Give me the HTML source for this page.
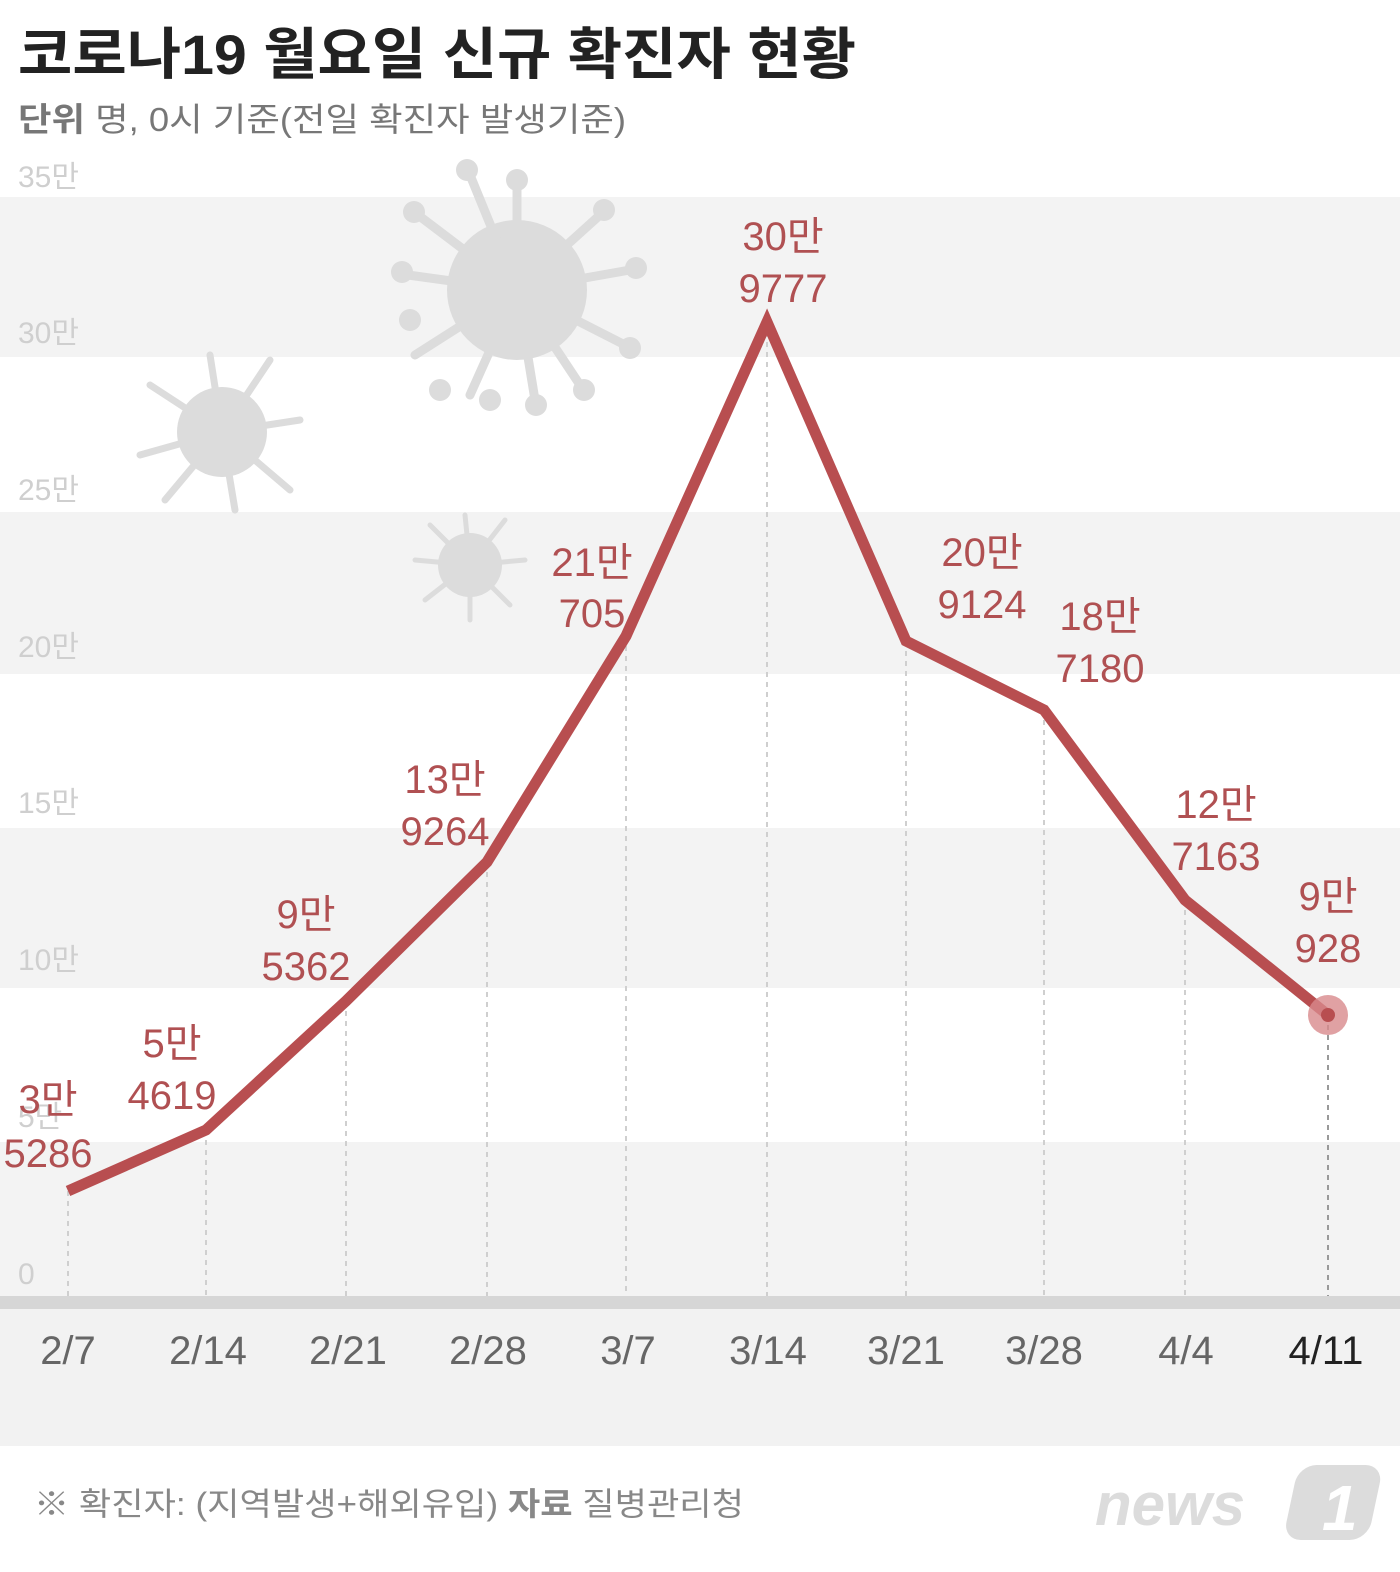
<!DOCTYPE html>
<html><head><meta charset="utf-8"><style>
body{margin:0;background:#fff}
svg text{font-family:"Liberation Sans","Noto Sans CJK KR",sans-serif}
</style></head><body>
<svg width="1400" height="1567" viewBox="0 0 1400 1567" xmlns="http://www.w3.org/2000/svg">
<rect width="1400" height="1567" fill="#fff"/>
<g fill="#f3f3f3">
<rect x="0" y="197" width="1400" height="160"/>
<rect x="0" y="512" width="1400" height="162"/>
<rect x="0" y="828" width="1400" height="160"/>
<rect x="0" y="1142" width="1400" height="154"/>
</g>
<g fill="#dcdcdc" stroke="#dcdcdc" stroke-linecap="round">
<circle cx="517" cy="290" r="70" stroke="none"/>
<g stroke-width="9">
<line x1="517" y1="290" x2="517" y2="185"/><line x1="517" y1="290" x2="600" y2="215"/><line x1="517" y1="290" x2="630" y2="270"/><line x1="517" y1="290" x2="625" y2="345"/><line x1="517" y1="290" x2="580" y2="385"/><line x1="517" y1="290" x2="535" y2="400"/><line x1="517" y1="290" x2="470" y2="395"/><line x1="517" y1="290" x2="415" y2="355"/><line x1="517" y1="290" x2="408" y2="275"/><line x1="517" y1="290" x2="418" y2="215"/><line x1="517" y1="290" x2="470" y2="175"/>
</g>
<g stroke="none"><circle cx="517" cy="180" r="11"/><circle cx="604" cy="210" r="11"/><circle cx="636" cy="268" r="11"/><circle cx="630" cy="348" r="11"/><circle cx="584" cy="390" r="11"/><circle cx="536" cy="405" r="11"/><circle cx="490" cy="400" r="11"/><circle cx="440" cy="390" r="11"/><circle cx="410" cy="320" r="11"/><circle cx="402" cy="272" r="11"/><circle cx="414" cy="212" r="11"/><circle cx="467" cy="170" r="11"/></g>
<circle cx="222" cy="432" r="45" stroke="none"/>
<g stroke-width="7">
<line x1="222" y1="432" x2="210" y2="355"/><line x1="222" y1="432" x2="270" y2="360"/><line x1="222" y1="432" x2="300" y2="420"/><line x1="222" y1="432" x2="290" y2="490"/><line x1="222" y1="432" x2="235" y2="510"/><line x1="222" y1="432" x2="165" y2="500"/><line x1="222" y1="432" x2="140" y2="455"/><line x1="222" y1="432" x2="150" y2="385"/>
</g>
<circle cx="470" cy="565" r="32" stroke="none"/>
<g stroke-width="5">
<line x1="470" y1="565" x2="465" y2="515"/><line x1="470" y1="565" x2="505" y2="520"/><line x1="470" y1="565" x2="525" y2="560"/><line x1="470" y1="565" x2="510" y2="605"/><line x1="470" y1="565" x2="470" y2="620"/><line x1="470" y1="565" x2="425" y2="600"/><line x1="470" y1="565" x2="415" y2="560"/><line x1="470" y1="565" x2="430" y2="525"/>
</g>
</g>
<text x="18" y="74" font-size="56" font-weight="bold" fill="#222" textLength="838" lengthAdjust="spacingAndGlyphs">코로나19 월요일 신규 확진자 현황</text>
<text x="18" y="131" font-size="33" fill="#777" textLength="608" lengthAdjust="spacingAndGlyphs"><tspan font-weight="bold">단위</tspan>  명, 0시 기준(전일 확진자 발생기준)</text>
<g font-size="30" fill="#cfcfcf">
<text x="18" y="187">35만</text><text x="18" y="343">30만</text><text x="18" y="500">25만</text><text x="18" y="657">20만</text><text x="18" y="813">15만</text><text x="18" y="970">10만</text><text x="18" y="1127">5만</text><text x="18" y="1284">0</text>
</g>
<g stroke="#cfcfcf" stroke-width="2" stroke-dasharray="5,5">
<line x1="68" y1="1191" x2="68" y2="1300"/><line x1="206" y1="1130" x2="206" y2="1300"/><line x1="346" y1="1001" x2="346" y2="1300"/><line x1="487" y1="862" x2="487" y2="1300"/><line x1="626" y1="636" x2="626" y2="1300"/><line x1="767" y1="322" x2="767" y2="1300"/><line x1="906" y1="641" x2="906" y2="1300"/><line x1="1044" y1="710" x2="1044" y2="1300"/><line x1="1185" y1="900" x2="1185" y2="1300"/><line x1="1328" y1="1015" x2="1328" y2="1300" stroke="#999"/>
</g>
<rect x="0" y="1296" width="1400" height="13" fill="#d6d6d6"/>
<rect x="0" y="1309" width="1400" height="137" fill="#f2f2f2"/>
<g font-size="40" fill="#666" text-anchor="middle">
<text x="68" y="1364">2/7</text><text x="208" y="1364">2/14</text><text x="348" y="1364">2/21</text><text x="488" y="1364">2/28</text><text x="628" y="1364">3/7</text><text x="768" y="1364">3/14</text><text x="906" y="1364">3/21</text><text x="1044" y="1364">3/28</text><text x="1186" y="1364">4/4</text><text x="1326" y="1364" fill="#222">4/11</text>
</g>
<polyline points="68,1191 206,1130 346,1001 487,862 626,636 767,322 906,641 1044,710 1185,900 1328,1015" fill="none" stroke="#b84e50" stroke-width="11" stroke-linejoin="miter"/>
<circle cx="1328" cy="1015" r="20" fill="#d88a8c" opacity="0.8"/>
<circle cx="1328" cy="1015" r="7" fill="#b84e50"/>
<g font-size="40" fill="#b05052" text-anchor="middle">
<text x="48" y="1113">3만</text><text x="48" y="1167">5286</text>
<text x="172" y="1057">5만</text><text x="172" y="1109">4619</text>
<text x="306" y="928">9만</text><text x="306" y="980">5362</text>
<text x="445" y="793">13만</text><text x="445" y="845">9264</text>
<text x="592" y="576">21만</text><text x="592" y="627">705</text>
<text x="783" y="250">30만</text><text x="783" y="302">9777</text>
<text x="982" y="566">20만</text><text x="982" y="618">9124</text>
<text x="1100" y="630">18만</text><text x="1100" y="682">7180</text>
<text x="1216" y="818">12만</text><text x="1216" y="870">7163</text>
<text x="1328" y="910">9만</text><text x="1328" y="962">928</text>
</g>
<text x="34" y="1515" font-size="32" fill="#888" textLength="710" lengthAdjust="spacingAndGlyphs">※ 확진자: (지역발생+해외유입)  <tspan font-weight="bold">자료</tspan>  질병관리청</text>
<text x="1095" y="1525" font-size="60" font-weight="bold" font-style="italic" fill="#dcdcdc">news</text>
<rect x="1290" y="1465" width="85" height="75" rx="18" fill="#dcdcdc" transform="skewX(-12) translate(320,0)"/>
<text x="1322" y="1530" font-size="64" font-weight="bold" font-style="italic" fill="#fff">1</text>
</svg>
</body></html>
